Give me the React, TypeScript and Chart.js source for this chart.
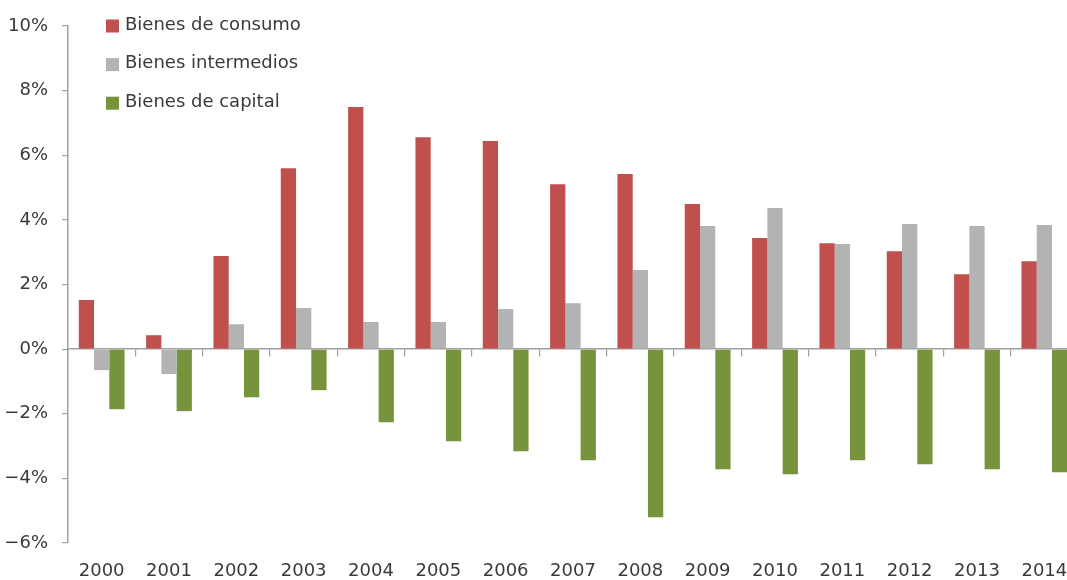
import React, { useEffect, useRef } from "react";
import { Chart, registerables } from "chart.js";

Chart.register(...registerables);

const years = ["2000","2001","2002","2003","2004","2005","2006","2007","2008","2009","2010","2011","2012","2013","2014"];
const consumo = [1.52, 0.43, 2.88, 5.6, 7.49, 6.56, 6.44, 5.1, 5.42, 4.49, 3.44, 3.28, 3.03, 2.32, 2.72];
const intermedios = [-0.65, -0.77, 0.77, 1.27, 0.84, 0.84, 1.24, 1.42, 2.45, 3.81, 4.37, 3.25, 3.87, 3.81, 3.84];
const capital = [-1.86, -1.92, -1.49, -1.27, -2.26, -2.85, -3.16, -3.44, -5.2, -3.72, -3.87, -3.44, -3.56, -3.72, -3.81];
const seriesNames = ["Bienes de consumo", "Bienes intermedios", "Bienes de capital"];
const seriesColors = ["#C0504D", "#B3B3B3", "#77933C"];

const FONT = "'DejaVu Sans', sans-serif";
const TEXT = "#3a3a3a";
const AXIS = "#a0a0a0";

const legendPlugin = {
  id: "vlegend",
  afterDraw(chart: any) {
    const ctx = chart.ctx;
    ctx.save();
    ctx.font = "18px " + FONT;
    ctx.textBaseline = "alphabetic";
    ctx.textAlign = "left";
    chart.data.datasets.forEach((ds: any, i: number) => {
      const base = 29.5 + i * 38.6;
      ctx.fillStyle = ds.backgroundColor;
      ctx.fillRect(106, base - 10, 13, 13);
      ctx.fillStyle = TEXT;
      ctx.fillText(ds.label, 125, base);
    });
    ctx.restore();
  },
};

export default function App() {
  const ref = useRef<HTMLCanvasElement | null>(null);
  useEffect(() => {
    if (!ref.current) return;
    const chart = new Chart(ref.current, {
      type: "bar",
      data: {
        labels: years,
        datasets: [consumo, intermedios, capital].map((d, i) => ({
          label: seriesNames[i],
          data: d,
          backgroundColor: seriesColors[i],
          borderWidth: 0,
          categoryPercentage: 0.68,
          barPercentage: 1.0,
          xAxisID: "x",
          yAxisID: "y",
        })),
      },
      plugins: [legendPlugin],
      options: {
        animation: false,
        responsive: true,
        maintainAspectRatio: false,
        layout: { padding: { top: 26, left: 0, right: 0, bottom: 0 } },
        plugins: { legend: { display: false }, tooltip: { enabled: false } },
        scales: {
          x: {
            type: "category",
            position: { y: 0 } as any,
            offset: true,
            grid: { offset: true, drawOnChartArea: false, drawTicks: true, tickLength: 7, color: AXIS, lineWidth: 1.2 },
            border: { color: AXIS, width: 1.5 },
            ticks: { display: false },
          },
          x2: {
            type: "category",
            position: "bottom",
            offset: true,
            grid: { display: false },
            border: { display: false },
            ticks: { color: TEXT, font: { family: FONT, size: 18 }, padding: 10, maxRotation: 0, autoSkip: false },
            afterFit: (s: any) => { s.height = 37; },
          },
          y: {
            min: -6,
            max: 10,
            position: "left",
            grid: { drawOnChartArea: false, drawTicks: true, tickLength: 6, color: AXIS, lineWidth: 1.2 },
            border: { color: AXIS, width: 1.5 },
            ticks: {
              stepSize: 2,
              padding: 14,
              color: TEXT,
              font: { family: FONT, size: 18 },
              callback: (v: any) => (v < 0 ? "\u2212" : "") + Math.abs(v) + "%",
            },
            afterFit: (s: any) => { s.width = 68; },
          },
        },
      },
    });
    return () => chart.destroy();
  }, []);
  return (
    <div style={{ position: "fixed", left: 0, top: 0, width: 1067, height: 580, overflow: "hidden", background: "#fff" }}>
      <div style={{ position: "absolute", left: 0, top: 0, width: 1078, height: 580 }}>
        <canvas ref={ref} />
      </div>
    </div>
  );
}
